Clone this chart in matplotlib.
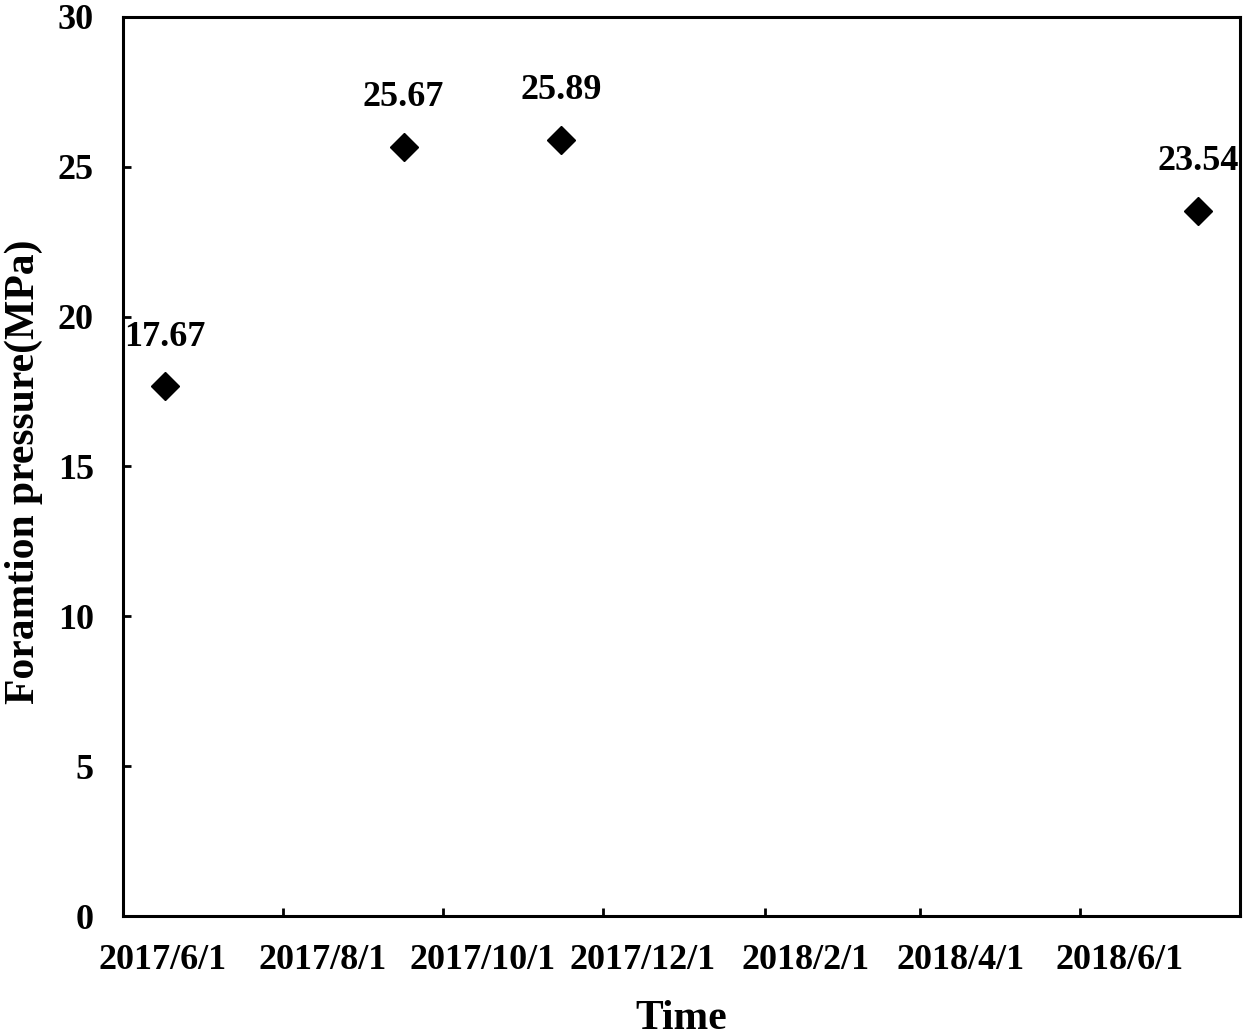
import matplotlib
matplotlib.use("Agg")
import matplotlib.pyplot as plt
import matplotlib.transforms as mtransforms
import datetime as dt

dates = ["2017-06-17", "2017-09-16", "2017-11-15", "2018-07-16"]
pressure = [17.67, 25.67, 25.89, 23.54]
labels = ["17.67", "25.67", "25.89", "23.54"]
tick_dates = ["2017-06-01", "2017-08-01", "2017-10-01", "2017-12-01",
              "2018-02-01", "2018-04-01", "2018-06-01"]
tick_labels = ["2017/6/1", "2017/8/1", "2017/10/1", "2017/12/1",
               "2018/2/1", "2018/4/1", "2018/6/1"]
yticks = [0, 5, 10, 15, 20, 25, 30]

plt.rcParams['font.family'] = ['Liberation Serif', 'DejaVu Serif']
plt.rcParams['font.weight'] = 'bold'

fig = plt.figure(figsize=(12.5, 10.34), dpi=100)
ax = fig.add_axes([0.0984, 0.1141, 0.8936, 0.8695])

xd = [dt.datetime.strptime(d, "%Y-%m-%d") for d in dates]
ax.plot(xd, pressure, linestyle='none', marker='D', markersize=14,
        color='black')
for x, y, t in zip(xd, pressure, labels):
    ax.annotate(t, (x, y), xytext=(0, 35.5), textcoords='offset points',
                ha='center', va='center', fontsize=26, fontweight='bold',
                clip_on=False)

ax.set_xlim(dt.datetime(2017, 6, 1), dt.datetime(2018, 8, 1))
ax.set_ylim(0, 30)
ax.set_xticks([dt.datetime.strptime(d, "%Y-%m-%d") for d in tick_dates])
ax.set_xticklabels(tick_labels)
ax.set_yticks(yticks)
ax.set_yticklabels([str(v) for v in yticks])

for s in ax.spines.values():
    s.set_linewidth(2.2)
ax.tick_params(direction='in', length=6, width=2, labelsize=26)
ax.tick_params(axis='x', pad=20)
ax.tick_params(axis='y', pad=21)

offset = mtransforms.ScaledTranslation(0.40, 0, fig.dpi_scale_trans)
for lab in ax.get_xticklabels():
    lab.set_transform(lab.get_transform() + offset)

ax.set_xlabel("Time", fontsize=30, fontweight='bold', va='top')
ax.xaxis.set_label_coords(0.5, -0.0934)
ax.set_ylabel("Foramtion pressure(MPa)", fontsize=30, fontweight='bold')
ax.yaxis.set_label_coords(-0.0716, 0.494)

fig.savefig("out.png", dpi=100)
